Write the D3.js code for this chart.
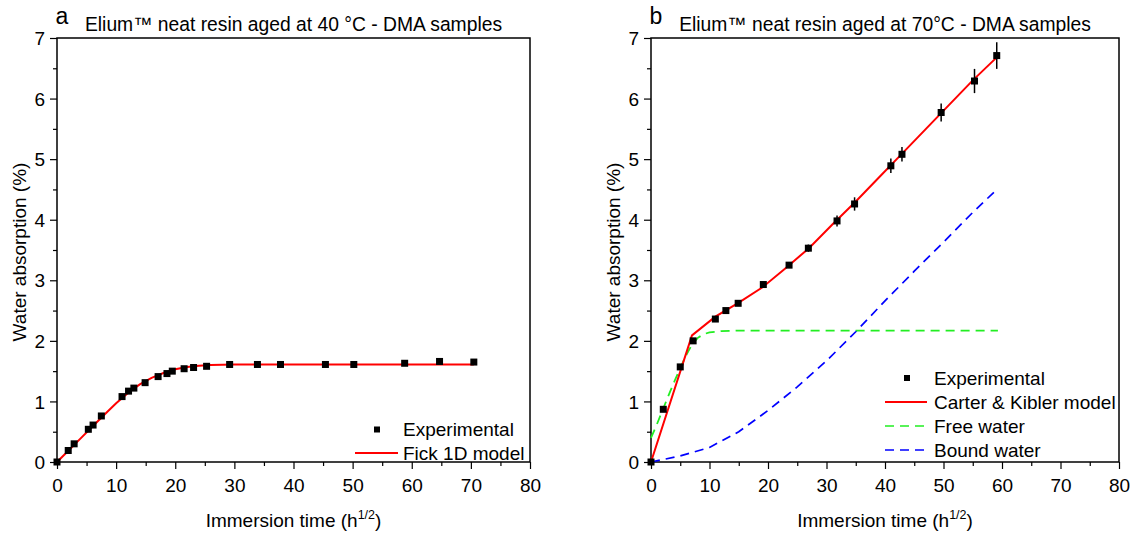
<!DOCTYPE html>
<html><head><meta charset="utf-8">
<script src="https://cdn.jsdelivr.net/npm/d3@7"></script>
<style>body{margin:0;background:#fff}svg{font-family:"Liberation Sans",Arial,sans-serif}</style>
</head><body><svg id="c" width="1136" height="533"></svg>
<script>
// Panel a: 40 °C
const aExpX = [0,1.9,2.9,5.3,6.1,7.5,11.0,12.1,13.0,14.9,17.1,18.6,19.5,21.5,23.1,25.3,29.2,33.9,37.8,45.4,50.2,58.8,64.7,70.5];
const aExpY = [0,0.19,0.30,0.54,0.61,0.76,1.08,1.17,1.22,1.31,1.41,1.46,1.50,1.54,1.56,1.58,1.61,1.61,1.61,1.61,1.61,1.63,1.66,1.65];
const aFickX = [0,2,4,6,8,10,12,14,16,18,20,22,24,26,28,30,35,40,50,60,70.5];
const aFickY = [0,0.195,0.39,0.585,0.78,0.97,1.14,1.28,1.39,1.47,1.53,1.57,1.59,1.60,1.605,1.61,1.61,1.61,1.61,1.61,1.61];
// Panel b: 70 °C
const bExpX = [0,2.1,5.0,7.2,11.0,12.8,14.9,19.2,23.6,26.9,31.8,34.8,41.0,42.9,49.6,55.3,59.1];
const bExpY = [0,0.87,1.57,2.0,2.36,2.50,2.62,2.93,3.25,3.53,3.98,4.26,4.89,5.08,5.77,6.29,6.71];
const bExpErr = [0.02,0.03,0.03,0.03,0.03,0.03,0.03,0.04,0.04,0.06,0.09,0.11,0.12,0.12,0.15,0.2,0.22];
const bCKX = [0,7,11,15,19,23,27,31,35,39,43,47,51,55,59.1];
const bCKY = [0,2.09,2.40,2.63,2.88,3.2,3.53,3.92,4.3,4.7,5.1,5.5,5.9,6.3,6.68];
const bFreeX = [0,1,2,3,4,5,6,7,8,9,10,12,15,30,59.3];
const bFreeY = [0.4,0.62,0.86,1.1,1.33,1.55,1.76,1.94,2.05,2.11,2.14,2.16,2.17,2.17,2.17];
const bBoundX = [0,5,10,15,20,25,30,35,40,45,50,55,58.8];
const bBoundY = [0,0.1,0.24,0.5,0.85,1.24,1.67,2.15,2.66,3.15,3.63,4.12,4.47];
const xTicks = [0,10,20,30,40,50,60,70,80];
const yTicks = [0,1,2,3,4,5,6,7];
const titles = ["Elium™ neat resin aged at 40 °C - DMA samples","Elium™ neat resin aged at 70°C - DMA samples"];
const letters = ["a","b"];

const svg = d3.select("#c");
const F = 19;

function panel(left, right, idx) {
  const x = d3.scaleLinear().domain([0,80]).range([left,right]);
  const y = d3.scaleLinear().domain([0,7]).range([462,38]);
  const g = svg.append("g");
  g.append("rect").attr("x",left).attr("y",38).attr("width",right-left).attr("height",424)
    .attr("fill","none").attr("stroke","#000").attr("stroke-width",1.5);
  const xa = g.append("g").attr("transform","translate(0,462)")
    .call(d3.axisBottom(x).tickValues(xTicks).tickSize(7).tickPadding(10).tickFormat(d3.format("d")));
  const xm = g.append("g").attr("transform","translate(0,462)")
    .call(d3.axisBottom(x).tickValues(d3.range(5,80,10)).tickSize(4).tickFormat(""));
  const ya = g.append("g").attr("transform",`translate(${left},0)`)
    .call(d3.axisLeft(y).tickValues(yTicks).tickSize(7).tickPadding(5).tickFormat(d3.format("d")));
  const ym = g.append("g").attr("transform",`translate(${left},0)`)
    .call(d3.axisLeft(y).tickValues(d3.range(0.5,7,1)).tickSize(4).tickFormat(""));
  [xa,xm,ya,ym].forEach(a=>{
    a.select(".domain").remove();
    a.selectAll("line").attr("stroke","#000").attr("stroke-width",1.2);
    a.selectAll("text").attr("font-size",F).attr("fill","#000").attr("font-family","Liberation Sans, Arial, sans-serif");
  });
  ya.selectAll("text").attr("dy","0.35em");
  g.append("text").attr("x",(left+right)/2).attr("y",31).attr("text-anchor","middle")
    .attr("font-size",19.3).text(titles[idx]);
  g.append("text").attr("x",left+5).attr("y",24).attr("text-anchor","middle")
    .attr("font-size",23).text(letters[idx]);
  const xt = g.append("text").attr("x",(left+right)/2).attr("y",527).attr("text-anchor","middle")
    .attr("font-size",F);
  xt.append("tspan").text("Immersion time (h");
  xt.append("tspan").attr("font-size",12.5).attr("dy",-8).text("1/2");
  xt.append("tspan").attr("dy",8).text(")");
  g.append("text").attr("transform",`translate(${left-31},252) rotate(-90)`).attr("text-anchor","middle")
    .attr("font-size",F).text("Water absorption (%)");
  return {g,x,y};
}

const line = (X,Y,sx,sy)=> d3.line().x(i=>sx(X[i])).y(i=>sy(Y[i]))(d3.range(X.length));

// Panel a
{
  const {g,x,y} = panel(57,530,0);
  g.append("path").attr("d",line(aFickX,aFickY,x,y)).attr("fill","none").attr("stroke","#ff0000").attr("stroke-width",2);
  g.selectAll(".pa").data(d3.range(aExpX.length)).enter().append("rect")
    .attr("x",i=>x(aExpX[i])-3.5).attr("y",i=>y(aExpY[i])-3.5).attr("width",7).attr("height",7).attr("fill","#000");
  g.append("rect").attr("x",374).attr("y",426.5).attr("width",6).attr("height",6).attr("fill","#000");
  g.append("text").attr("x",403).attr("y",436).attr("font-size",F).text("Experimental");
  g.append("line").attr("x1",355).attr("x2",398).attr("y1",453).attr("y2",453).attr("stroke","#ff0000").attr("stroke-width",2);
  g.append("text").attr("x",403).attr("y",460).attr("font-size",F).text("Fick 1D model");
}
// Panel b
{
  const {g,x,y} = panel(651,1119,1);
  g.append("path").attr("d",line(bBoundX,bBoundY,x,y)).attr("fill","none").attr("stroke","#0000ff").attr("stroke-width",1.7).attr("stroke-dasharray","9,6");
  g.append("path").attr("d",line(bFreeX,bFreeY,x,y)).attr("fill","none").attr("stroke","#22ee22").attr("stroke-width",1.8).attr("stroke-dasharray","9,6");
  g.append("path").attr("d",line(bCKX,bCKY,x,y)).attr("fill","none").attr("stroke","#ff0000").attr("stroke-width",2);
  const idx = d3.range(bExpX.length);
  g.selectAll(".eb").data(idx).enter().append("line")
    .attr("x1",i=>x(bExpX[i])).attr("x2",i=>x(bExpX[i]))
    .attr("y1",i=>y(bExpY[i]-bExpErr[i])).attr("y2",i=>y(bExpY[i]+bExpErr[i]))
    .attr("stroke","#000").attr("stroke-width",1.5);
  g.selectAll(".pb").data(idx).enter().append("rect")
    .attr("x",i=>x(bExpX[i])-3.5).attr("y",i=>y(bExpY[i])-3.5).attr("width",7).attr("height",7).attr("fill","#000");
  g.append("rect").attr("x",904).attr("y",375).attr("width",6).attr("height",6).attr("fill","#000");
  g.append("text").attr("x",934).attr("y",384.5).attr("font-size",F).text("Experimental");
  const items = [["#ff0000",null,"Carter & Kibler model",402],["#22ee22","9,6","Free water",426],["#0000ff","9,6","Bound water",450]];
  items.forEach(([c,d,t,yy])=>{
    const l = g.append("line").attr("x1",885).attr("x2",927).attr("y1",yy).attr("y2",yy).attr("stroke",c).attr("stroke-width",d?1.7:2);
    if (d) l.attr("stroke-dasharray",d);
    g.append("text").attr("x",934).attr("y",yy+6.5).attr("font-size",F).text(t);
  });
}
</script></body></html>
